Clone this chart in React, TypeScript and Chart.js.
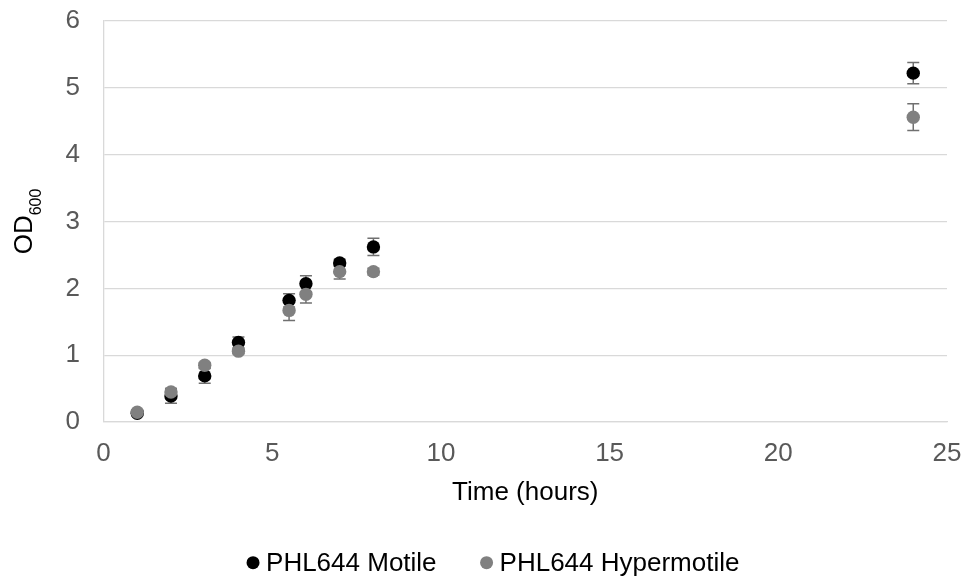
import React, { useEffect, useRef } from "react";
import { Chart, registerables } from "chart.js";

Chart.register(...registerables);

// ---- data ----
const timeHours = [1, 2, 3, 4, 5.5, 6, 7, 8, 24];
const motileOD = [0.13, 0.39, 0.69, 1.19, 1.82, 2.07, 2.38, 2.62, 5.22];
const motileErr = [0.03, 0.11, 0.11, 0.08, 0.1, 0.12, 0.05, 0.13, 0.16];
const hyperOD = [0.145, 0.45, 0.85, 1.06, 1.67, 1.91, 2.25, 2.25, 4.56];
const hyperErr = [0.03, 0.04, 0.04, 0.04, 0.15, 0.13, 0.11, 0.05, 0.2];
const seriesNames = ["PHL644 Motile", "PHL644 Hypermotile"];
const seriesColors = ["#000000", "#808080"];
const xAxisTitle = "Time (hours)";
const yAxisTitleMain = "OD";
const yAxisTitleSub = "600";

const FONT = "'Liberation Sans', Arial, sans-serif";

const errorBarPlugin = {
  id: "errorBars",
  beforeDatasetsDraw(chart: any) {
    const ctx = chart.ctx;
    const xs = chart.scales.x;
    const ys = chart.scales.y;
    ctx.save();
    ctx.strokeStyle = "#707070";
    ctx.lineWidth = 1.5;
    chart.data.datasets.forEach((ds: any) => {
      const errs: number[] = ds.errors || [];
      ds.data.forEach((pt: any, j: number) => {
        const e = errs[j] || 0;
        const px = xs.getPixelForValue(pt.x);
        const top = ys.getPixelForValue(pt.y + e);
        const bot = ys.getPixelForValue(pt.y - e);
        ctx.beginPath();
        ctx.moveTo(px, top);
        ctx.lineTo(px, bot);
        ctx.moveTo(px - 6, top);
        ctx.lineTo(px + 6, top);
        ctx.moveTo(px - 6, bot);
        ctx.lineTo(px + 6, bot);
        ctx.stroke();
      });
    });
    ctx.restore();
  },
};

const yTitlePlugin = {
  id: "yTitleSub",
  afterDraw(chart: any) {
    const ctx = chart.ctx;
    const ca = chart.chartArea;
    const cy = (ca.top + ca.bottom) / 2;
    ctx.save();
    ctx.fillStyle = "#000000";
    ctx.textBaseline = "alphabetic";
    ctx.textAlign = "left";
    ctx.font = `26px ${FONT}`;
    const wMain = ctx.measureText(yAxisTitleMain).width;
    ctx.font = `16px ${FONT}`;
    const wSub = ctx.measureText(yAxisTitleSub).width;
    const total = wMain + wSub;
    ctx.translate(32, cy);
    ctx.rotate(-Math.PI / 2);
    ctx.font = `26px ${FONT}`;
    ctx.fillText(yAxisTitleMain, -total / 2, 0);
    ctx.font = `16px ${FONT}`;
    ctx.fillText(yAxisTitleSub, -total / 2 + wMain, 9);
    ctx.restore();
  },
};

const legendPlugin = {
  id: "customLegend",
  afterDraw(chart: any) {
    const ctx = chart.ctx;
    const y = chart.height - 22.3;
    const r = 6.5;
    const textGap = 13;
    const itemGap = 50;
    ctx.save();
    ctx.font = `26px ${FONT}`;
    ctx.textBaseline = "middle";
    ctx.textAlign = "left";
    const items = chart.data.datasets.map((ds: any) => ({
      label: ds.label,
      color: ds.backgroundColor,
      w: ctx.measureText(ds.label).width,
    }));
    let total = r;
    items.forEach((it: any, i: number) => {
      total += textGap + it.w + (i < items.length - 1 ? itemGap : 0);
    });
    let x = 493 - total / 2 + r;
    items.forEach((it: any) => {
      ctx.fillStyle = it.color;
      ctx.beginPath();
      ctx.arc(x, y, r, 0, Math.PI * 2);
      ctx.fill();
      ctx.fillStyle = "#000000";
      ctx.fillText(it.label, x + textGap, y + 1);
      x += textGap + it.w + itemGap;
    });
    ctx.restore();
  },
};

export default function App() {
  const canvasRef = useRef<HTMLCanvasElement | null>(null);

  useEffect(() => {
    if (!canvasRef.current) return;
    const chart = new Chart(canvasRef.current, {
      type: "scatter",
      data: {
        datasets: [
          {
            label: seriesNames[0],
            data: timeHours.map((t, i) => ({ x: t, y: motileOD[i] })),
            errors: motileErr,
            backgroundColor: seriesColors[0],
            borderColor: seriesColors[0],
            borderWidth: 0,
            pointRadius: 6.7,
            order: 1,
          } as any,
          {
            label: seriesNames[1],
            data: timeHours.map((t, i) => ({ x: t, y: hyperOD[i] })),
            errors: hyperErr,
            backgroundColor: seriesColors[1],
            borderColor: seriesColors[1],
            borderWidth: 0,
            pointRadius: 6.7,
            order: 0,
          } as any,
        ],
      },
      options: {
        animation: false,
        responsive: true,
        maintainAspectRatio: false,
        events: [],
        layout: { padding: { top: 21, right: 21, left: 0, bottom: 73 } },
        plugins: {
          legend: { display: false },
          tooltip: { enabled: false },
        },
        scales: {
          x: {
            type: "linear",
            min: 0,
            max: 25,
            ticks: {
              stepSize: 5,
              padding: 16.4,
              color: "#595959",
              font: { family: FONT, size: 26 },
            },
            grid: { display: false, drawTicks: false },
            border: { display: true, color: "#d9d9d9", width: 1.3 },
            title: {
              display: true,
              text: xAxisTitle,
              color: "#000000",
              font: { family: FONT, size: 26 },
              padding: { top: 0, bottom: 4 },
            },
            afterFit: (s: any) => {
              s.height = 90;
              s.paddingLeft = 0;
              s.paddingRight = 0;
            },
          },
          y: {
            type: "linear",
            min: 0,
            max: 6,
            ticks: {
              stepSize: 1,
              padding: 23.5,
              color: "#595959",
              font: { family: FONT, size: 26 },
            },
            grid: { color: "#d9d9d9", lineWidth: 1.3, drawTicks: false },
            border: { display: true, color: "#d9d9d9", width: 1.3 },
            afterFit: (s: any) => {
              s.width = 103.5;
              s.paddingTop = 0;
              s.paddingBottom = 0;
            },
          },
        },
      },
      plugins: [errorBarPlugin, yTitlePlugin, legendPlugin],
    });
    return () => chart.destroy();
  }, []);

  return (
    <div style={{ position: "absolute", left: 0, top: 0, width: 968, height: 585, background: "#fff" }}>
      <canvas ref={canvasRef} />
    </div>
  );
}
